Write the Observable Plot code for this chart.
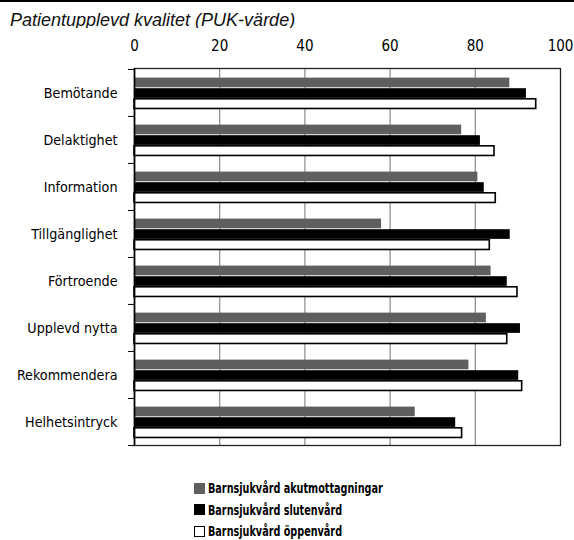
<!DOCTYPE html>
<html>
<head>
<meta charset="utf-8">
<script src="https://cdn.jsdelivr.net/npm/d3@7"></script>
<script src="https://cdn.jsdelivr.net/npm/@observablehq/plot@0.6"></script>
<style>
  html, body { margin: 0; padding: 0; background: #fff; }
  #wrap { width: 574px; height: 540px; position: relative; border-top: 2.5px solid #000; box-sizing: border-box; overflow: hidden; }
  #title { position: absolute; left: 10px; top: 7.5px; font-family: "Liberation Sans", Arial, sans-serif; font-style: italic; font-size: 18px; color: #111; white-space: nowrap; }
  #chart { position: absolute; left: 0; top: 25.5px; }
  #legend { position: absolute; left: 194px; top: 475.5px; font-family: "DejaVu Sans Condensed", "DejaVu Sans", sans-serif; font-weight: bold; font-size: 14.5px; color: #000; }
  #legend .row { height: 21.5px; display: flex; align-items: center; white-space: nowrap; }
  #legend .sw { width: 11px; height: 11px; box-sizing: border-box; margin-right: 3px; flex: none; }
  #legend .tx { display: inline-block; transform: scaleX(0.74); transform-origin: left center; }
</style>
</head>
<body>
<div id="wrap">
  <div id="title">Patientupplevd kvalitet (PUK-värde)</div>
  <div id="chart"></div>
  <div id="legend"></div>
</div>
<script>
const categories = ["Bemötande", "Delaktighet", "Information", "Tillgänglighet", "Förtroende", "Upplevd nytta", "Rekommendera", "Helhetsintryck"];
const series = ["Barnsjukvård akutmottagningar", "Barnsjukvård slutenvård", "Barnsjukvård öppenvård"];
const akut   = [88.1, 76.8, 80.6, 58.0, 83.7, 82.6, 78.5, 65.9];
const sluten = [92.0, 81.2, 82.1, 88.2, 87.5, 90.6, 90.2, 75.4];
const oppen  = [94.3, 84.5, 84.8, 83.4, 89.9, 87.5, 91.0, 76.9];
const xTicks = [0, 20, 40, 60, 80, 100];

const fills = ["#5f5f5f", "#000000", "#ffffff"];
const strokes = ["none", "none", "#000000"];
const valuesBySeries = [akut, sluten, oppen];

// layout
const W = 574, H = 427, mT = 40, mB = 10, mL = 134, mR = 14;
const bw = (H - mT - mB) / categories.length;   // band height per category
const barH = 9.8, gap = 0.8, off = 8.6;

const font = '"DejaVu Sans Condensed", "DejaVu Sans", sans-serif';

const barMarks = series.map((s, j) => {
  const rows = categories.map((c, i) => ({category: c, series: s, value: valuesBySeries[j][i]}));
  const top = off + j * (barH + gap);
  return Plot.barX(rows, {
    y: "category", x: "value",
    fill: fills[j], stroke: strokes[j], strokeWidth: 1.6,
    insetTop: top, insetBottom: bw - top - barH
  });
});

const plot = Plot.plot({
  width: W,
  height: H,
  marginTop: mT,
  marginBottom: mB,
  marginLeft: mL,
  marginRight: mR,
  style: {fontFamily: font, fontSize: "14px", color: "#000", background: "#fff"},
  x: {domain: [0, 100]},
  y: {domain: categories, padding: 0},
  marks: [
    Plot.gridX(xTicks.slice(1, -1), {stroke: "#8a8a8a", strokeOpacity: 1, strokeWidth: 1.2}),
    ...barMarks,
    Plot.frame({stroke: "#222", strokeWidth: 1.3}),
    Plot.ruleX([0], {stroke: "#000", strokeWidth: 1.6}),
    Plot.axisY(categories, {anchor: "left", tickSize: 6, tickFormat: () => "", label: null, dy: -bw / 2, stroke: "#000"}),
    Plot.axisY(categories.slice(-1), {anchor: "left", tickSize: 6, tickFormat: () => "", label: null, dy: bw / 2, stroke: "#000"}),
    Plot.axisY(categories, {anchor: "left", tickSize: 0, tickPadding: 17, label: null, fontSize: 14.2}),
    Plot.axisX(xTicks, {anchor: "top", tickSize: 0, tickPadding: 18, label: null, fontSize: 15})
  ]
});
document.getElementById("chart").appendChild(plot);

const legend = document.getElementById("legend");
series.forEach((s, j) => {
  const row = document.createElement("div");
  row.className = "row";
  const sw = document.createElement("div");
  sw.className = "sw";
  sw.style.background = fills[j];
  if (strokes[j] !== "none") sw.style.border = "1.6px solid " + strokes[j];
  const t = document.createElement("span");
  t.className = "tx";
  t.textContent = s;
  row.appendChild(sw);
  row.appendChild(t);
  legend.appendChild(row);
});
</script>
</body>
</html>
